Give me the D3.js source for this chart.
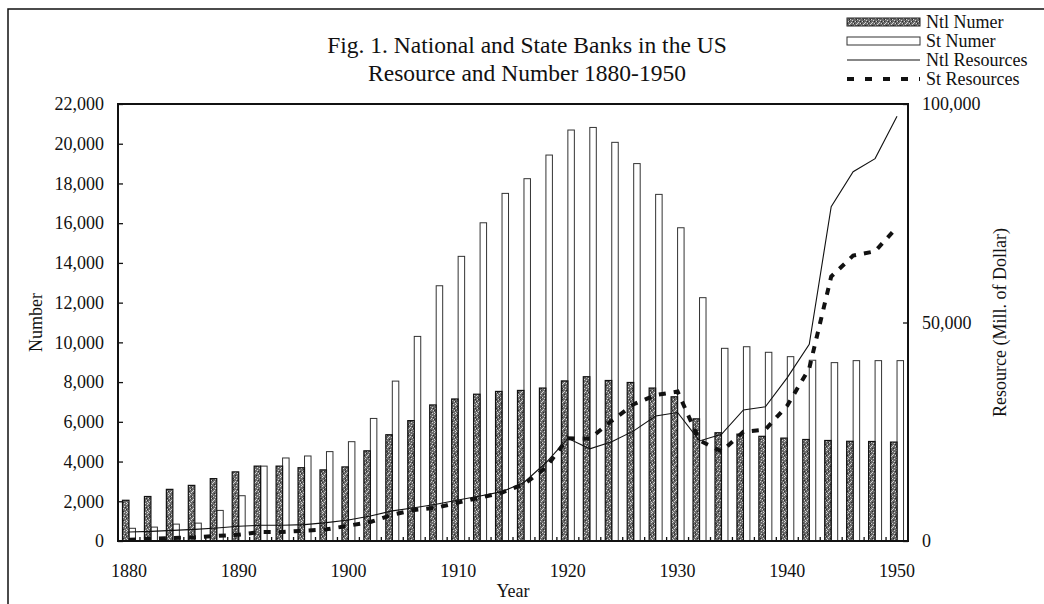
<!DOCTYPE html>
<html>
<head>
<meta charset="utf-8">
<script src="https://cdn.jsdelivr.net/npm/d3@7/dist/d3.min.js"></script>
<style>
  body { margin: 0; background: #fff; }
  svg { display: block; }
  text { font-family: "Liberation Serif", "Times New Roman", serif; fill: #111; }
</style>
</head>
<body>
<div id="chart"></div>
<script>
// Banks in the US, every 2 years
var years = ['1880','1882','1884','1886','1888','1890','1892','1894','1896','1898',
             '1900','1902','1904','1906','1908','1910','1912','1914','1916','1918',
             '1920','1922','1924','1926','1928','1930','1932','1934','1936','1938',
             '1940','1942','1944','1946','1948','1950'];

// number of banks (left axis)
var ntlNumber = [2050, 2240, 2600, 2800, 3140, 3480, 3770, 3770, 3690, 3580,
                 3730, 4540, 5350, 6060, 6850, 7150, 7390, 7530, 7580, 7700,
                 8060, 8270, 8080, 7980, 7700, 7260, 6150, 5450, 5380, 5270,
                 5180, 5110, 5060, 5020, 5010, 4980];
var stNumber  = [640, 700, 850, 900, 1540, 2280, 3770, 4180, 4280, 4500,
                 5000, 6170, 8050, 10300, 12850, 14330, 16020, 17500, 18240, 19430,
                 20690, 20820, 20070, 19000, 17450, 15770, 12250, 9700, 9780, 9500,
                 9280, 9100, 8980, 9080, 9080, 9080];

// resources, mill. of dollar (right axis)
var ntlResources = [2060, 2210, 2440, 2670, 2980, 3360, 3590, 3590, 3740, 4200,
                    4810, 5730, 6900, 7600, 8400, 9400, 10300, 11300, 13400, 17900,
                    23500, 21100, 22700, 25200, 28600, 29400, 22900, 24400, 30000, 30700,
                    37400, 45000, 76500, 84500, 87500, 97200];
var stResources  = [300, 500, 700, 850, 1150, 1450, 2060, 2060, 2370, 2670,
                    3500, 4350, 6000, 7100, 7600, 8800, 9900, 11100, 13000, 16800,
                    23500, 23400, 27500, 31300, 33400, 34200, 23000, 20500, 25000, 25500,
                    31000, 39500, 60500, 65300, 66300, 71800];

var leftTicks  = [0, 2000, 4000, 6000, 8000, 10000, 12000, 14000, 16000, 18000, 20000, 22000];
var rightTicks = [0, 50000, 100000];
var yearLabels = ['1880','1890','1900','1910','1920','1930','1940','1950'];

var legendNames = ['Ntl Numer', 'St Numer', 'Ntl Resources', 'St Resources'];

var W = 1044, H = 604;
var plot = {left: 118, right: 908, top: 104, bottom: 541};

var svg = d3.select('#chart').append('svg')
    .attr('width', W)
    .attr('height', H);

// speckled fill for the national bars (fixed dot layout, looks like the scan)
var pat = svg.append('defs').append('pattern')
    .attr('id', 'speckle')
    .attr('width', 7)
    .attr('height', 9)
    .attr('patternUnits', 'userSpaceOnUse');
pat.append('rect').attr('width', 7).attr('height', 9).attr('fill', '#6a6a6a');
[[0,0],[3,1],[5,2],[1,3],[4,4],[6,5],[2,6],[0,7],[5,8],[3,5],[1,8]].forEach(function(p) {
    pat.append('rect').attr('x', p[0]).attr('y', p[1])
        .attr('width', 1).attr('height', 1).attr('fill', '#d4d4d4');
});
[[2,1],[6,3],[0,5],[4,7],[2,3]].forEach(function(p) {
    pat.append('rect').attr('x', p[0]).attr('y', p[1])
        .attr('width', 1).attr('height', 1).attr('fill', '#2a2a2a');
});

// outer frame
svg.append('rect')
    .attr('x', 8).attr('y', 9)
    .attr('width', W).attr('height', H)
    .attr('fill', 'none')
    .attr('stroke', '#111')
    .attr('stroke-width', 1.5);

var x = d3.scaleBand().domain(years).range([plot.left, plot.right]);
var xPair = d3.scaleBand().domain(['ntl', 'st'])
    .range([0, x.bandwidth()])
    .paddingOuter(0.69);
var yLeft = d3.scaleLinear().domain([0, 22000]).range([plot.bottom, plot.top]);
var yRight = d3.scaleLinear().domain([0, 100000]).range([plot.bottom, plot.top]);

function cx(d, i) { return x(years[i]) + x.bandwidth() / 2; }

// bars
var g = svg.append('g');
g.selectAll('rect.st')
    .data(stNumber)
    .enter()
    .append('rect')
    .attr('class', 'st')
    .attr('x', function(d, i) { return x(years[i]) + xPair('st'); })
    .attr('y', function(d) { return yLeft(d); })
    .attr('width', xPair.bandwidth())
    .attr('height', function(d) { return plot.bottom - yLeft(d); })
    .attr('fill', '#fff')
    .attr('stroke', '#333')
    .attr('stroke-width', 1);

g.selectAll('rect.ntl')
    .data(ntlNumber)
    .enter()
    .append('rect')
    .attr('class', 'ntl')
    .attr('x', function(d, i) { return x(years[i]) + xPair('ntl'); })
    .attr('y', function(d) { return yLeft(d); })
    .attr('width', xPair.bandwidth())
    .attr('height', function(d) { return plot.bottom - yLeft(d); })
    .attr('fill', 'url(#speckle)')
    .attr('stroke', '#111')
    .attr('stroke-width', 1.2);

// resource lines
var line = d3.line()
    .x(cx)
    .y(function(d) { return yRight(d); });

svg.append('path')
    .datum(ntlResources)
    .attr('d', line)
    .attr('fill', 'none')
    .attr('stroke', '#111')
    .attr('stroke-width', 1.1);

svg.append('path')
    .datum(stResources)
    .attr('d', line)
    .attr('fill', 'none')
    .attr('stroke', '#111')
    .attr('stroke-width', 4)
    .attr('stroke-dasharray', '7,8');

// plot frame
svg.append('rect')
    .attr('x', plot.left).attr('y', plot.top)
    .attr('width', plot.right - plot.left)
    .attr('height', plot.bottom - plot.top)
    .attr('fill', 'none')
    .attr('stroke', '#111')
    .attr('stroke-width', 2);

// axes
var axL = svg.append('g')
    .attr('transform', 'translate(' + plot.left + ',0)')
    .call(d3.axisLeft(yLeft).tickValues(leftTicks)
        .tickFormat(d3.format(',')).tickSizeInner(-5).tickSizeOuter(0).tickPadding(14));

var axR = svg.append('g')
    .attr('transform', 'translate(' + plot.right + ',0)')
    .call(d3.axisRight(yRight).tickValues(rightTicks)
        .tickFormat(d3.format(',')).tickSizeInner(-5).tickSizeOuter(0).tickPadding(14));

var axB = svg.append('g')
    .attr('transform', 'translate(0,' + plot.bottom + ')')
    .call(d3.axisBottom(x).tickValues(yearLabels).tickSize(0).tickPadding(23));

// small inward ticks between categories
svg.append('g').selectAll('line')
    .data(years)
    .enter()
    .append('line')
    .attr('x1', function(d) { return x(d); })
    .attr('x2', function(d) { return x(d); })
    .attr('y1', plot.bottom)
    .attr('y2', plot.bottom - 4)
    .attr('stroke', '#111')
    .attr('stroke-width', 1.3);

[axL, axR, axB].forEach(function(a) {
    a.select('.domain').remove();
    a.selectAll('line').attr('stroke', '#111').attr('stroke-width', 1.3);
    a.selectAll('text')
        .style('font-family', '"Liberation Serif", "Times New Roman", serif')
        .style('font-size', '18px')
        .attr('fill', '#111');
});

// titles
svg.append('text')
    .attr('x', 527).attr('y', 53)
    .attr('text-anchor', 'middle')
    .style('font-size', '23.5px')
    .text('Fig. 1. National and State Banks in the US');
svg.append('text')
    .attr('x', 527).attr('y', 81)
    .attr('text-anchor', 'middle')
    .style('font-size', '23.5px')
    .text('Resource and Number 1880-1950');

svg.append('text')
    .attr('x', (plot.left + plot.right) / 2).attr('y', 597)
    .attr('text-anchor', 'middle')
    .style('font-size', '18px')
    .text('Year');

svg.append('text')
    .attr('transform', 'translate(42,' + (plot.top + plot.bottom) / 2 + ') rotate(-90)')
    .attr('text-anchor', 'middle')
    .style('font-size', '18px')
    .text('Number');

svg.append('text')
    .attr('transform', 'translate(1006,' + (plot.top + plot.bottom) / 2 + ') rotate(-90)')
    .attr('text-anchor', 'middle')
    .style('font-size', '18px')
    .text('Resource (Mill. of Dollar)');

// legend
var leg = svg.append('g');
var legY = d3.scalePoint().domain(legendNames).range([22, 79]);
var sx0 = 847, sx1 = 920;

leg.append('rect')
    .attr('x', sx0).attr('y', legY('Ntl Numer') - 4)
    .attr('width', sx1 - sx0).attr('height', 8)
    .attr('fill', 'url(#speckle)').attr('stroke', '#222');
leg.append('rect')
    .attr('x', sx0).attr('y', legY('St Numer') - 4)
    .attr('width', sx1 - sx0).attr('height', 8)
    .attr('fill', '#fff').attr('stroke', '#333');
leg.append('line')
    .attr('x1', sx0).attr('x2', sx1)
    .attr('y1', legY('Ntl Resources')).attr('y2', legY('Ntl Resources'))
    .attr('stroke', '#111').attr('stroke-width', 1.1);
leg.append('line')
    .attr('x1', sx0).attr('x2', sx1)
    .attr('y1', legY('St Resources')).attr('y2', legY('St Resources'))
    .attr('stroke', '#111').attr('stroke-width', 4)
    .attr('stroke-dasharray', '7,11');

leg.selectAll('text')
    .data(legendNames)
    .enter()
    .append('text')
    .attr('x', 926)
    .attr('y', function(d) { return legY(d); })
    .attr('dy', '0.35em')
    .style('font-size', '18px')
    .text(function(d) { return d; });
</script>
</body>
</html>
